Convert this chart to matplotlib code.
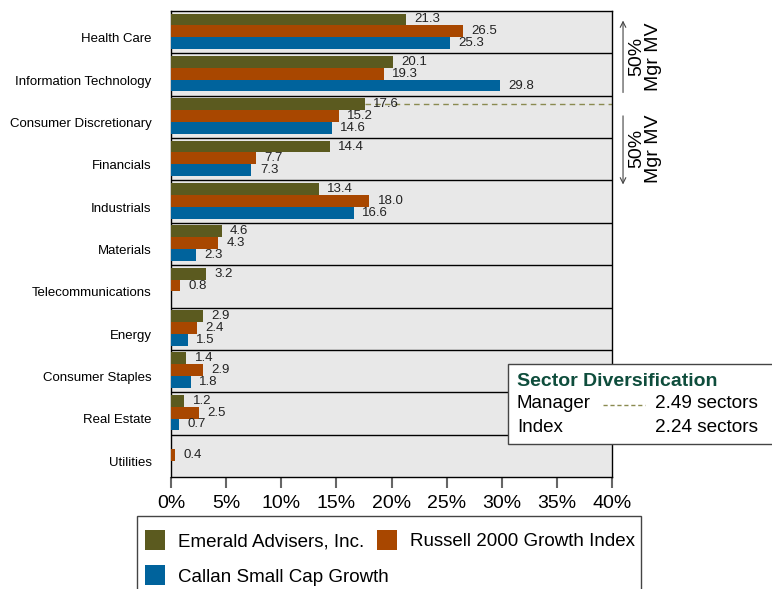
import matplotlib
matplotlib.use("Agg")
import matplotlib.pyplot as plt
import numpy as np
from matplotlib.patches import Rectangle
from matplotlib.lines import Line2D

plt.rcParams['font.family'] = ['Liberation Sans', 'DejaVu Sans']

#=======================================================
sectors = ["Health Care", "Information Technology", "Consumer Discretionary",
           "Financials", "Industrials", "Materials", "Telecommunications",
           "Energy", "Consumer Staples", "Real Estate", "Utilities"]
manager = [21.3, 20.1, 17.6, 14.4, 13.4, 4.6, 3.2, 2.9, 1.4, 1.2, None]
index = [26.5, 19.3, 15.2, 7.7, 18.0, 4.3, 0.8, 2.4, 2.9, 2.5, 0.4]
peers = [25.3, 29.8, 14.6, 7.3, 16.6, 2.3, None, 1.5, 1.8, 0.7, None]
series_names = ["Emerald Advisers, Inc.", "Russell 2000 Growth Index",
                "Callan Small Cap Growth"]
xticks = [0, 5, 10, 15, 20, 25, 30, 35, 40]
mgr_div = 2.49
idx_div = 2.24

colors = ["#5b5a1f", "#a84700", "#00639c"]

#=======================================================
fig = plt.figure(figsize=(7.72, 5.89), dpi=100)
ax = fig.add_axes([171/772, 1-477/589, 441/772, 466/589])
ax.set_facecolor("#e8e8e8")

y = np.arange(len(sectors))
h = 0.28
offsets = [-h, 0, h]
for s, (vals, off) in enumerate(zip([manager, index, peers], offsets)):
    for i, v in enumerate(vals):
        if v is None:
            continue
        ax.barh(y[i] + off - 0.02, v, height=h, color=colors[s], zorder=3)
        ax.annotate(f"{v:.1f}", (v, y[i] + off - 0.02), xytext=(6, 0),
                    textcoords="offset points", va="center", ha="left",
                    fontsize=9.5, color="#222222", zorder=4)

# separators between sectors
for i in range(len(sectors) - 1):
    ax.axhline(i + 0.5, color="black", lw=1, zorder=2)

# manager diversification marker
cd = sectors.index("Consumer Discretionary")
ax.plot([manager[cd], 40], [cd - h - 0.02] * 2, ls=(0, (4, 3)),
        color="#8a8a50", lw=1, zorder=2)

ax.set_xlim(0, 40)
ax.set_ylim(len(sectors) - 0.5, -0.5)
ax.set_xticks(xticks)
ax.set_xticklabels([f"{t}%" for t in xticks], fontsize=14)
ax.set_yticks(y + 0.13)
ax.set_yticklabels(sectors, fontsize=9.5)
ax.tick_params(axis="y", length=0, pad=14)
ax.tick_params(axis="x", length=8, color="#666666", width=1.5, pad=5)
for sp in ax.spines.values():
    sp.set_color("black")
    sp.set_linewidth(1)

# 50% arrows
ax.annotate("", xy=(41.0, -0.34), xytext=(41.0, 1.49),
            arrowprops=dict(arrowstyle="->", color="#444444", lw=0.8),
            annotation_clip=False)
ax.annotate("", xy=(41.0, 3.66), xytext=(41.0, 1.91),
            arrowprops=dict(arrowstyle="->", color="#444444", lw=0.8),
            annotation_clip=False)
ax.text(43.0, 0.57, "50%\nMgr MV", rotation=90, ha="center", va="center",
        fontsize=14, linespacing=0.95, clip_on=False)
ax.text(43.0, 2.74, "50%\nMgr MV", rotation=90, ha="center", va="center",
        fontsize=14, linespacing=0.95, clip_on=False)

#=======================================================
# sector diversification box
fig.patches.append(Rectangle((508/772, 1-444/589), 270/772, 80/589,
                             transform=fig.transFigure, facecolor="white",
                             edgecolor="#444444", lw=1, zorder=10))
fig.text(517/772, 1-381/589, "Sector Diversification", fontsize=14,
         fontweight="bold", color="#0e4d3c", va="center", zorder=11)
fig.text(517/772, 1-404/589, "Manager", fontsize=13.5, va="center", zorder=11)
fig.text(517/772, 1-427/589, "Index", fontsize=13.5, va="center", zorder=11)
fig.add_artist(Line2D([603/772, 645/772], [1-405/589, 1-405/589],
                      transform=fig.transFigure, ls=(0, (3, 2)),
                      color="#8a8a50", lw=1, zorder=11))
fig.text(655/772, 1-404/589, f"{mgr_div:.2f} sectors", fontsize=13.7,
         va="center", zorder=11)
fig.text(655/772, 1-427/589, f"{idx_div:.2f} sectors", fontsize=13.7,
         va="center", zorder=11)

#=======================================================
# legend, laid out as a flowing row like the original
fig.patches.append(Rectangle((137/772, 1-600/589), 504/772, 84/589,
                             transform=fig.transFigure, facecolor="white",
                             edgecolor="#444444", lw=1, zorder=10))
leg_pos = [(145, 540), (377, 540), (145, 575)]
for (px, py), c, name in zip(leg_pos, colors, series_names):
    fig.patches.append(Rectangle((px/772, 1-(py+10)/589), 20/772, 20/589,
                                 transform=fig.transFigure, facecolor=c,
                                 edgecolor="none", zorder=11))
    fig.text((px+33)/772, 1-(py+2)/589, name, fontsize=13.5, va="center",
             zorder=11)

fig.savefig("out.png", dpi=100)
